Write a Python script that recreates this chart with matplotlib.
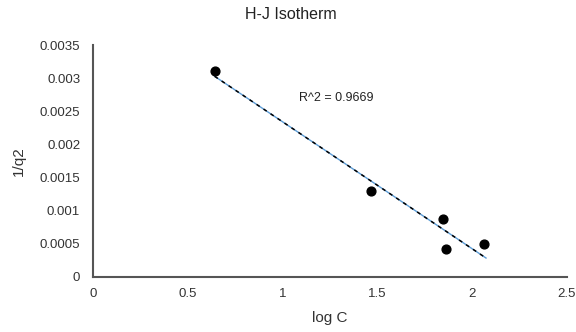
import numpy as np
from matplotlib import pyplot as plt

plt.rcParams['font.family'] = ['Liberation Sans', 'DejaVu Sans']

log_c = [0.643, 1.468, 1.846, 1.864, 2.064]
inv_q2 = [0.00311, 0.00129, 0.00087, 0.00042, 0.00050]
r2_label = "R^2 = 0.9669"
x_ticks = [0, 0.5, 1, 1.5, 2, 2.5]
y_ticks = [0, 0.0005, 0.001, 0.0015, 0.002, 0.0025, 0.003, 0.0035]

fig = plt.figure(figsize=(5.76, 3.32), dpi=100)
ax = fig.add_axes([0.161, 0.166, 0.823, 0.698])

# linear trendline
slope, intercept = np.polyfit(log_c, inv_q2, 1)
tx = np.array([min(log_c), max(log_c) + 0.01])
ty = slope * tx + intercept
ax.plot(tx, ty, color='#5b9bd5', lw=1.0, zorder=2)
ax.plot(tx, ty, color='black', lw=1.1, linestyle=(0, (2.5, 3)), zorder=3)

ax.scatter(log_c, inv_q2, s=40, color='black', zorder=4)

ax.text(1.09, 0.0027, r2_label, fontsize=9, color='#222222', va='center', ha='left')

ax.set_xlim(0, 2.5)
ax.set_ylim(0, 0.0035)
ax.set_xticks(x_ticks)
ax.set_xticklabels(["0", "0.5", "1", "1.5", "2", "2.5"])
ax.set_yticks(y_ticks)
ax.set_yticklabels(["0", "0.0005", "0.001", "0.0015", "0.002", "0.0025", "0.003", "0.0035"])
ax.tick_params(length=0, labelsize=9.5, colors='#333333')
ax.tick_params(axis='x', pad=8)
ax.tick_params(axis='y', pad=9)

for s in ['top', 'right']:
    ax.spines[s].set_visible(False)
for s in ['left', 'bottom']:
    ax.spines[s].set_color('#555555')
    ax.spines[s].set_linewidth(1.5)

ax.set_xlabel("log C", fontsize=11, color='#333333', labelpad=8)
ax.set_ylabel("1/q2", fontsize=11, color='#333333', labelpad=10)
fig.text(0.505, 0.955, "H-J Isotherm", fontsize=11.5, color='#222222', ha='center', va='center')

plt.savefig("out.png", dpi=100)
